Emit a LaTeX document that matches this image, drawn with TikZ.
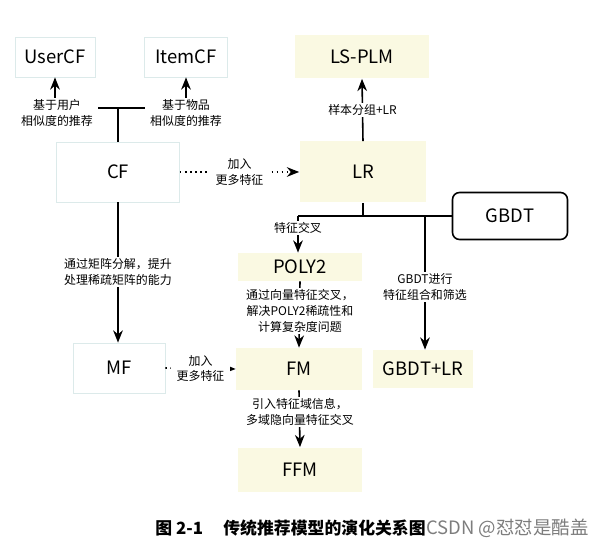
\documentclass[tikz,border=0pt]{standalone}
\usepackage{fontspec}
\setmainfont{Noto Sans CJK SC}
\usetikzlibrary{arrows.meta,positioning,calc}
\definecolor{boxyellow}{RGB}{250,249,226}
\definecolor{boxedge}{RGB}{220,234,234}
\definecolor{markgray}{RGB}{125,125,125}
\tikzset{
  modelbox/.style={fill=boxyellow,font=\fontsize{10.5}{12}\selectfont,inner sep=0pt},
  basebox/.style={draw=boxedge,fill=white,font=\fontsize{10.5}{12}\selectfont,inner sep=0pt},
  arrowto/.style={-{Stealth[length=7pt,width=5.5pt]},line width=0.9pt},
  tag/.style={fill=white,align=center,font=\fontsize{6.8}{9}\selectfont,inner xsep=3pt,inner ysep=1pt},
}
\begin{document}
\begin{tikzpicture}[x=0.02cm,y=-0.02cm]
  \useasboundingbox (0,0) rectangle (595,546);
  % modelos
  \node[basebox,minimum width=1.6cm,minimum height=0.8cm] (usercf) at (55,57) {UserCF};
  \node[basebox,minimum width=1.66cm,minimum height=0.8cm] (itemcf) at (186,57) {ItemCF};
  \node[basebox,minimum width=2.46cm,minimum height=1.2cm] (cf) at (118,172) {CF};
  \node[basebox,minimum width=1.84cm,minimum height=1.0cm] (mf) at (119,368) {MF};
  \node[modelbox,minimum width=2.7cm,minimum height=0.86cm] (lsplm) at (362,57) {LS-PLM};
  \node[modelbox,minimum width=2.54cm,minimum height=1.22cm] (lr) at (363,172) {LR};
  \node[draw,fill=white,rounded corners=4pt,line width=0.9pt,font=\fontsize{10.5}{12}\selectfont,
        minimum width=2.3cm,minimum height=0.94cm] (gbdt) at (510,216) {GBDT};
  \node[modelbox,minimum width=2.48cm,minimum height=0.56cm] (poly) at (300,267) {POLY2};
  \node[modelbox,minimum width=2.52cm,minimum height=0.84cm] (fm) at (299,369) {FM};
  \node[modelbox,minimum width=2.0cm,minimum height=0.76cm] (gbdtlr) at (423,369) {GBDT+LR};
  \node[modelbox,minimum width=2.5cm,minimum height=0.9cm] (ffm) at (300,470) {FFM};
  % conexiones
  \coordinate (jcf) at (118,108);
  \coordinate (jlr) at (363,216);
  \coordinate (jpoly) at (298,216);
  \coordinate (jgbdt) at (425,216);
  \draw[line width=0.9pt] (cf.north) -- (jcf);
  \draw[arrowto] (jcf) -| (usercf.south);
  \draw[arrowto] (jcf) -| (itemcf.south);
  \node[tag] (tuser) at (57,113) {基于用户\\相似度的推荐};
  \node[tag] (titem) at (186,113) {基于物品\\相似度的推荐};
  \draw[arrowto,dotted] (cf.east) -- (lr.west)
    node[tag,midway] (tcflr) {加入\\更多特征};
  \draw[arrowto] (lr.north) -- (lsplm.south)
    node[tag,midway] (tlsplm) {样本分组+LR};
  \draw[line width=0.9pt] (lr.south) -- (jlr);
  \draw[line width=0.9pt] (jpoly) -- (gbdt.west);
  \draw[arrowto] (jpoly) -- (jpoly |- poly.north);
  \node[tag] (tpoly) at (298,228) {特征交叉};
  \draw[arrowto] (jgbdt) -- (jgbdt |- gbdtlr.north);
  \node[tag] (tgbdt) at (425,287) {GBDT进行\\特征组合和筛选};
  \draw[arrowto] (poly.south) -- (fm.north);
  \node[tag] (tfm) at (300,311) {通过向量特征交叉，\\解决POLY2稀疏性和\\计算复杂度问题};
  \draw[arrowto] (fm.south) -- (ffm.north);
  \node[tag] (tffm) at (300,412) {引入特征域信息，\\多域隐向量特征交叉};
  \draw[arrowto] (cf.south) -- (cf.south |- mf.north);
  \node[tag] (tmf) at (118,272) {通过矩阵分解，提升\\处理稀疏矩阵的能力};
  \draw[arrowto,dotted] (mf.east) -- (fm.west)
    node[tag,midway] (tmffm) {加入\\更多特征};
  % pie de figura
  \node[anchor=west,inner sep=0pt,font=\fontsize{9.6}{11}\selectfont\bfseries] (caption) at (155,528)
    {图 2-1\hspace{1.2em}传统推荐模型的演化关系图};
  \node[anchor=west,inner sep=0pt,text=markgray,font=\fontsize{10.5}{12}\selectfont] (mark)
    at (caption.east) {CSDN @怼怼是酷盖};
\end{tikzpicture}
\end{document}
